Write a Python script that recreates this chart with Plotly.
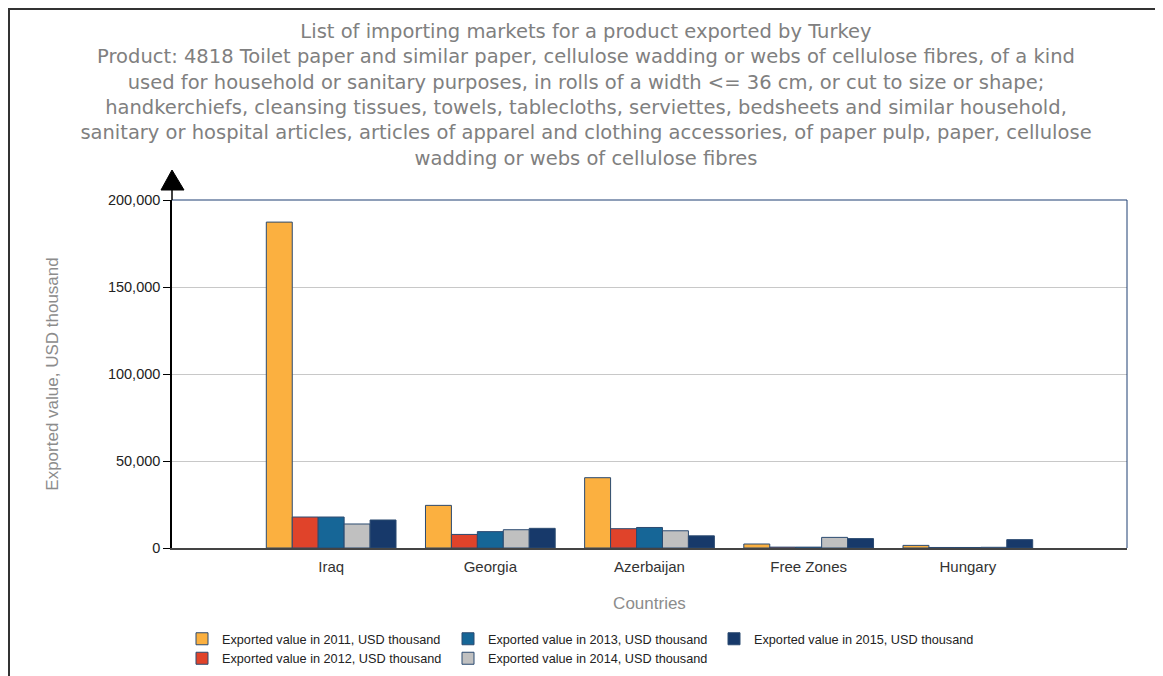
import plotly.graph_objects as go

countries = ["Iraq", "Georgia", "Azerbaijan", "Free Zones", "Hungary"]
v2011 = [187300, 24500, 40400, 2300, 1500]
v2012 = [17800, 7800, 11100, 500, 300]
v2013 = [17800, 9400, 11800, 500, 300]
v2014 = [13800, 10500, 9900, 6100, 400]
v2015 = [16100, 11300, 7000, 5400, 4800]
series_names = [
    "Exported value in 2011, USD thousand",
    "Exported value in 2012, USD thousand",
    "Exported value in 2013, USD thousand",
    "Exported value in 2014, USD thousand",
    "Exported value in 2015, USD thousand",
]
colors = ["#FBB040", "#E0432A", "#166697", "#C0C0C0", "#17396A"]
ranks = [1, 4, 2, 5, 3]

OFF = 8  # page body margin
W, H = 1163 - OFF, 676 - OFF
L, R, T, B = 172 - OFF, 36, 200 - OFF, 128
pw, ph = W - L - R, H - T - B

def px(x):  # screen x -> paper
    return (x - OFF - L) / pw

def py(y):  # screen y -> paper
    return (H - B - (y - OFF)) / ph

fig = go.Figure()
for name, vals, c, rk in zip(series_names, [v2011, v2012, v2013, v2014, v2015], colors, ranks):
    fig.add_trace(go.Bar(
        x=countries, y=vals, name=name,
        marker=dict(color=c, line=dict(color="#2B4A70", width=1)),
        legendrank=rk,
    ))

title_text = ("List of importing markets for a product exported by Turkey<br>"
              "Product: 4818 Toilet paper and similar paper, cellulose wadding or webs of cellulose fibres, of a kind<br>"
              "used for household or sanitary purposes, in rolls of a width &lt;= 36 cm, or cut to size or shape;<br>"
              "handkerchiefs, cleansing tissues, towels, tablecloths, serviettes, bedsheets and similar household,<br>"
              "sanitary or hospital articles, articles of apparel and clothing accessories, of paper pulp, paper, cellulose<br>"
              "wadding or webs of cellulose fibres")

shapes = [
    dict(type="line", xref="paper", yref="paper", x0=0, x1=1, y0=1, y1=1,
         line=dict(color="#1F3F73", width=1), layer="above"),
    dict(type="line", xref="paper", yref="paper", x0=1, x1=1, y0=0, y1=1,
         line=dict(color="#1F3F73", width=1), layer="above"),
    dict(type="line", xref="paper", yref="paper", x0=0, x1=0, y0=1, y1=py(188),
         line=dict(color="black", width=1.5), layer="above"),
    dict(type="path", xref="paper", yref="paper",
         path=f"M {px(161)} {py(190)} L {px(172)} {py(170)} L {px(184)} {py(190)} Z",
         fillcolor="black", line=dict(color="black", width=1), layer="above"),
    dict(type="line", xref="paper", yref="paper", x0=px(OFF), x1=px(1163), y0=py(OFF + 1), y1=py(OFF + 1),
         line=dict(color="#333333", width=2), layer="above"),
    dict(type="line", xref="paper", yref="paper", x0=px(OFF + 1), x1=px(OFF + 1), y0=py(OFF), y1=py(676),
         line=dict(color="#333333", width=2), layer="above"),
]

fig.update_layout(
    width=W, height=H,
    margin=dict(l=L, r=R, t=T, b=B),
    paper_bgcolor="white", plot_bgcolor="white",
    barmode="group", bargap=0.185, bargroupgap=0,
    title=dict(text=title_text, x=(586 - OFF) / W, xanchor="center",
               yref="container", y=1 - 30 / H, yanchor="top",
               font=dict(family="DejaVu Sans", size=19.5, color="#808080")),
    xaxis=dict(range=[-1, 5], showgrid=False, showline=True, linecolor="#444444", linewidth=1.5,
               ticks="outside", ticklen=4, tickcolor="rgba(0,0,0,0)",
               tickfont=dict(family="Liberation Sans", size=15, color="#333333"),
               title=dict(text="Countries", font=dict(family="Liberation Sans", size=17, color="#8C8C8C"),
                          standoff=23)),
    yaxis=dict(range=[0, 200000], dtick=50000, tickformat=",", showgrid=True, gridcolor="#C8C8C8",
               gridwidth=1, showline=True, linecolor="black", linewidth=1.5, zeroline=False,
               ticks="outside", ticklen=7, tickcolor="black",
               tickfont=dict(family="Liberation Sans", size=14.5, color="#222222"),
               title=dict(text="Exported value, USD thousand",
                          font=dict(family="Liberation Sans", size=17, color="#8C8C8C"), standoff=45)),
    legend=dict(orientation="h", x=px(182), xanchor="left",
                yref="container", y=(H - (624 - OFF)) / H, yanchor="top",
                entrywidth=221, traceorder="normal",
                font=dict(family="Liberation Sans", size=12.7, color="#222222"),
                tracegroupgap=0, itemwidth=30),
    shapes=shapes,
)

fig.write_html("out.html")
